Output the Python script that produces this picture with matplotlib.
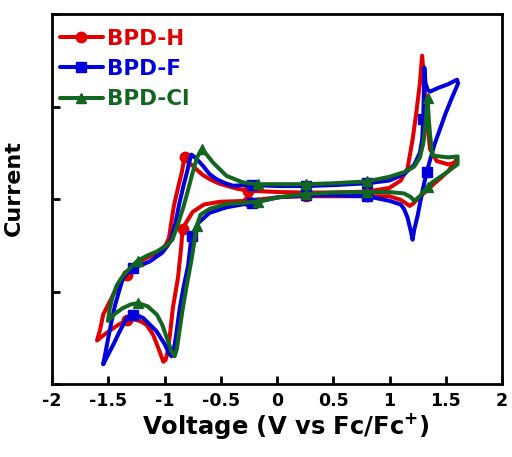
import matplotlib
matplotlib.use("Agg")
import matplotlib.pyplot as plt

# ---------------- data (V vs Fc/Fc+, current in arbitrary units) ----------------
h_v = [-0.26, 0.02, 0.26, 0.50, 0.80, 1.00, 1.10, 1.16, 1.205, 1.24, 1.27, 1.29, 1.31, 1.33, 1.36,
       1.42, 1.52, 1.58, 1.60,
       1.52, 1.45, 1.40, 1.33, 1.25, 1.21, 1.18, 1.15, 1.10, 1.00, 0.80, 0.50, 0.26, 0.02, -0.26,
       -0.51, -0.65, -0.75, -0.84,
       -0.85, -0.88, -0.926, -0.95, -0.97, -0.99, -1.01, -1.04, -1.10, -1.16, -1.22, -1.28, -1.335,
       -1.41, -1.49, -1.55, -1.60,
       -1.57, -1.545, -1.50, -1.456, -1.40, -1.337, -1.22, -1.13, -1.05, -0.99, -0.96, -0.917, -0.88,
       -0.846, -0.83, -0.82,
       -0.79, -0.75, -0.716, -0.66, -0.598, -0.52, -0.449, -0.35, -0.26]
h_i = [0.09, 0.075, 0.07, 0.07, 0.08, 0.12, 0.20, 0.33, 0.64, 0.95, 1.25, 1.55, 1.25, 0.90, 0.54,
       0.41, 0.375, 0.39, 0.43,
       0.30, 0.22, 0.17, 0.09, 0.00, -0.05, -0.075, -0.05, -0.01, 0.03, 0.03, 0.03, 0.03, 0.02, -0.02,
       -0.03, -0.06, -0.14, -0.32,
       -0.50, -0.85, -1.18, -1.45, -1.64, -1.74, -1.76, -1.66, -1.47, -1.36, -1.318, -1.30, -1.31,
       -1.36, -1.425, -1.48, -1.53,
       -1.40, -1.25, -1.14, -1.036, -0.92, -0.822, -0.675, -0.62, -0.57, -0.50, -0.42, -0.075, 0.12,
       0.29, 0.40, 0.45,
       0.40, 0.36, 0.32, 0.26, 0.214, 0.17, 0.143, 0.11, 0.09]
h_mark = [0, 2, 4, 29, 31, 33, 37, 50, 60, 70]

f_v = [-0.22, 0.02, 0.26, 0.50, 0.80, 1.00, 1.13, 1.22, 1.27, 1.29, 1.30, 1.31, 1.32, 1.34, 1.36, 1.43,
       1.52, 1.60,
       1.61, 1.55, 1.50, 1.45, 1.40, 1.33, 1.29, 1.25, 1.22, 1.205, 1.19, 1.16, 1.13, 1.10, 1.00,
       0.80, 0.50, 0.26, 0.02,
       -0.22, -0.45, -0.60, -0.70, -0.76, -0.79, -0.83, -0.864, -0.90, -0.92, -0.938, -0.96, -0.997,
       -1.071, -1.19, -1.24, -1.28, -1.33, -1.367, -1.41, -1.454, -1.50, -1.545,
       -1.52, -1.50, -1.47, -1.44, -1.40, -1.37, -1.32, -1.28, -1.20, -1.13, -1.02, -0.97, -0.94,
       -0.90, -0.873, -0.83, -0.80, -0.78, -0.76,
       -0.72, -0.657, -0.60, -0.538, -0.46, -0.39, -0.30, -0.22]
f_i = [0.15, 0.14, 0.14, 0.15, 0.17, 0.20, 0.27, 0.37, 0.50, 0.64, 0.86, 1.42, 1.25, 1.18, 1.16, 1.20,
       1.24, 1.29,
       1.25, 1.08, 0.93, 0.76, 0.59, 0.29, 0.07, -0.18, -0.33, -0.44, -0.35, -0.20, -0.11, -0.06, -0.02,
       0.03, 0.04, 0.04, 0.02,
       -0.04, -0.09, -0.15, -0.26, -0.40, -0.72, -0.95, -1.18, -1.50, -1.64, -1.70, -1.67, -1.572,
       -1.429, -1.286, -1.26, -1.25, -1.28, -1.358, -1.46, -1.572, -1.68, -1.787,
       -1.63, -1.50, -1.32, -1.15, -0.98, -0.86, -0.78, -0.75, -0.71, -0.675, -0.58, -0.50, -0.43,
       -0.25, -0.075, 0.15, 0.29, 0.40, 0.48,
       0.44, 0.357, 0.27, 0.214, 0.17, 0.143, 0.15, 0.15]
f_mark = [0, 2, 4, 10, 23, 33, 35, 37, 41, 53, 67]

cl_v = [-0.17, 0.02, 0.26, 0.50, 0.80, 1.00, 1.13, 1.22, 1.27, 1.30, 1.32, 1.338, 1.35, 1.36, 1.38, 1.45,
        1.52, 1.605,
        1.605, 1.50, 1.38, 1.338, 1.30, 1.27, 1.24, 1.22, 1.19, 1.13, 1.00, 0.80, 0.50, 0.26, 0.02,
        -0.17, -0.45, -0.60, -0.68, -0.713,
        -0.758, -0.80, -0.837, -0.87, -0.89, -0.91, -0.94, -0.98, -1.02, -1.068, -1.15, -1.237, -1.30,
        -1.37, -1.44, -1.503,
        -1.486, -1.46, -1.424, -1.38, -1.335, -1.237, -1.15, -1.068, -0.98, -0.93, -0.88, -0.829,
        -0.79, -0.749, -0.71, -0.669,
        -0.627, -0.568, -0.449, -0.302, -0.17]
cl_i = [0.16, 0.16, 0.16, 0.17, 0.19, 0.24, 0.29, 0.35, 0.45, 0.60, 0.80, 1.09, 0.85, 0.70, 0.47, 0.46,
        0.45, 0.46,
        0.375, 0.28, 0.18, 0.13, 0.08, 0.03, 0.00, -0.02, 0.02, 0.06, 0.075, 0.075, 0.07, 0.054, 0.02,
        -0.03, -0.054, -0.107, -0.17, -0.29,
        -0.643, -0.92, -1.179, -1.45, -1.62, -1.70, -1.64, -1.50, -1.36, -1.25, -1.16, -1.125, -1.14,
        -1.179, -1.24, -1.318,
        -1.179, -1.05, -0.932, -0.85, -0.782, -0.665, -0.61, -0.568, -0.50, -0.44, -0.27, -0.075,
        0.10, 0.289, 0.45, 0.536,
        0.482, 0.393, 0.25, 0.179, 0.16]
cl_mark = [0, 2, 4, 11, 21, 29, 31, 33, 37, 49, 59, 69]

names = ["BPD-H", "BPD-F", "BPD-Cl"]
x_ticks = [-2, -1.5, -1, -0.5, 0, 0.5, 1, 1.5, 2]
x_tick_labels = ["-2", "-1.5", "-1", "-0.5", "0", "0.5", "1", "1.5", "2"]
y_ticks = [-2, -1, 0, 1, 2]

# ---------------- style ----------------
plt.rcParams["font.family"] = ["DejaVu Sans"]
plt.rcParams["font.weight"] = "bold"
plt.rcParams["mathtext.default"] = "bf"
plt.rcParams["mathtext.fontset"] = "dejavusans"

colors = ["#E00000", "#0000DD", "#12661F"]
markers = ["o", "s", "^"]

fig = plt.figure(figsize=(5.12, 4.57), dpi=100)
ax = fig.add_axes([52 / 512, 1 - 384 / 457, 450 / 512, 370 / 457])

series = [(h_v, h_i, h_mark), (f_v, f_i, f_mark), (cl_v, cl_i, cl_mark)]
for (v, i, mk), name, c, m in zip(series, names, colors, markers):
    ax.plot(v, i, color=c, lw=2.9, marker=m, markersize=7.5, markevery=mk,
            markeredgecolor=c, markerfacecolor=c, solid_joinstyle="round",
            solid_capstyle="round", label=name)

ax.set_xlim(-2, 2)
ax.set_ylim(-2, 2)
ax.set_xticks(x_ticks)
ax.set_xticklabels(x_tick_labels, fontsize=12.5, fontweight="bold")
ax.set_yticks(y_ticks)
ax.set_yticklabels([])
ax.tick_params(direction="in", length=6, width=2, pad=6)
for s in ax.spines.values():
    s.set_linewidth(2)

ax.set_xlabel(r"Voltage (V vs Fc/Fc$^{+}$)", fontsize=17.5, fontweight="bold")
ax.xaxis.set_label_coords(0.52, -0.072)
ax.set_ylabel("Current", fontsize=16, fontweight="bold")
ax.yaxis.set_label_coords(-0.062, 0.53)

leg = ax.legend(loc="upper left", bbox_to_anchor=(0.008, 0.972), frameon=False,
                handlelength=2.0, handletextpad=0.2, labelspacing=0.48, numpoints=1,
                borderaxespad=0, borderpad=0.2, labelcolor="linecolor",
                prop={"weight": "bold", "size": 15.5})
for h in leg.legend_handles:
    h.set_markevery([1])

fig.savefig("out.png", dpi=100)
